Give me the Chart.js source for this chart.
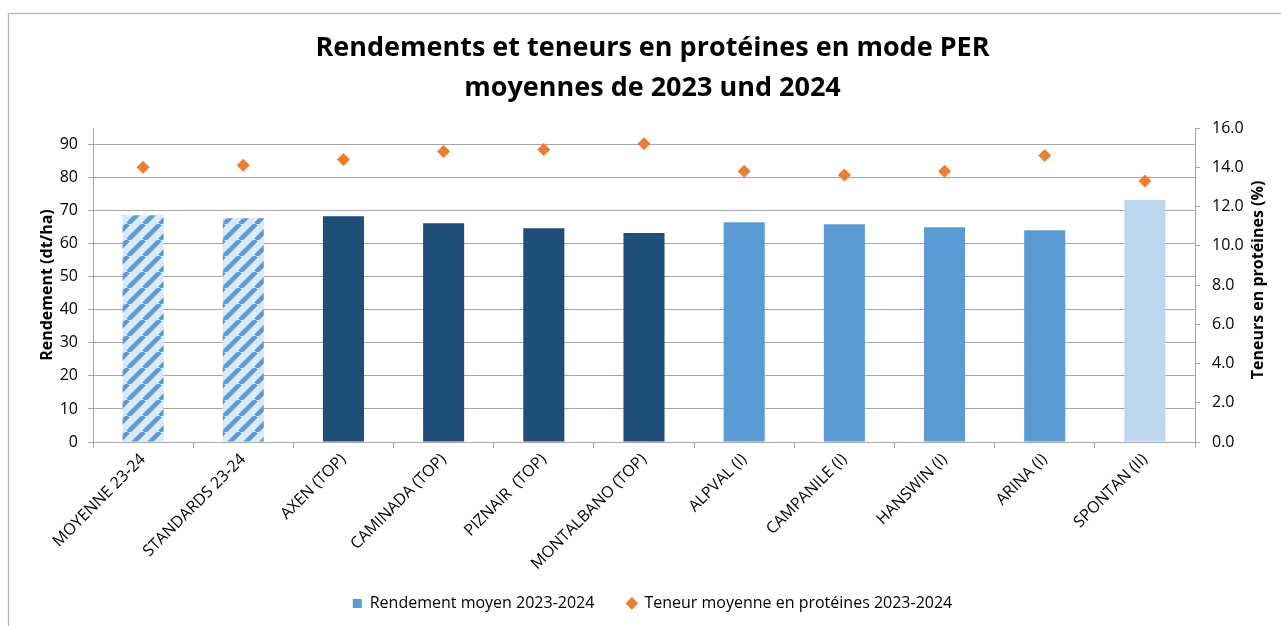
<!DOCTYPE html>
<html><head><meta charset="utf-8">
<script src="https://cdn.jsdelivr.net/npm/chart.js@4.4.1/dist/chart.umd.min.js"></script>
<style>html,body{margin:0;padding:0;background:#fff;}</style>
</head><body>
<canvas id="c" width="1281" height="626"></canvas>
<script>
// ---- data ----
const categories = ['MOYENNE 23-24','STANDARDS 23-24','AXEN (TOP)','CAMINADA (TOP)','PIZNAIR  (TOP)','MONTALBANO (TOP)','ALPVAL (I)','CAMPANILE (I)','HANSWIN (I)','ARINA (I)','SPONTAN (II)'];
const rendement = [68.6, 67.7, 68.3, 66.2, 64.7, 63.2, 66.5, 65.9, 65.0, 64.1, 73.2];
const proteines = [14.0, 14.1, 14.4, 14.8, 14.9, 15.2, 13.8, 13.6, 13.8, 14.6, 13.3];
const leftTicks = [0, 10, 20, 30, 40, 50, 60, 70, 80, 90];
const rightTicks = [0, 2, 4, 6, 8, 10, 12, 14, 16];
const titleLines = ['Rendements et teneurs en protéines en mode PER', 'moyennes de 2023 und 2024'];
const leftTitle = 'Rendement (dt/ha)';
const rightTitle = 'Teneurs en protéines (%)';
const barLabel = 'Rendement moyen 2023-2024';
const pointLabel = 'Teneur moyenne en protéines 2023-2024';

// ---- style ----
const F = "'Open Sans', 'DejaVu Sans', sans-serif";
const DARK = '#1f4e79', MID = '#5b9bd5', LIGHT = '#bdd7ee', ORANGE = '#ed7d31', GRID = '#a6a6a6';
const XAXIS_BOTTOM = 584;      // bottom of x-axis label box
const LEGEND_PAD = 33;
const LEGEND_CENTER = 605;
function hatch() {
  const s = 16, c = document.createElement('canvas');
  c.width = s; c.height = s;
  const g = c.getContext('2d');
  g.fillStyle = '#dde8f6'; g.fillRect(0, 0, s, s);
  g.strokeStyle = MID; g.lineWidth = 4.5;
  g.beginPath();
  for (let k = -1; k <= 1; k++) { g.moveTo(k * s, s); g.lineTo(k * s + s, 0); }
  g.stroke();
  return document.getElementById('c').getContext('2d').createPattern(c, 'repeat');
}
const H = hatch();
const barColors = [H, H, DARK, DARK, DARK, DARK, MID, MID, MID, MID, LIGHT];

const framePlugin = {
  id: 'frame',
  beforeDraw(chart) {
    const ctx = chart.ctx; ctx.save();
    ctx.strokeStyle = '#b4b4b4'; ctx.lineWidth = 1.3;
    ctx.strokeRect(8.5, 13.5, 1400, 1000);
    ctx.restore();
  },
  afterDraw(chart) {
    const ctx = chart.ctx; ctx.save();
    ctx.translate(1258, 280);
    ctx.rotate(-Math.PI / 2);
    ctx.textAlign = 'center'; ctx.textBaseline = 'middle';
    ctx.fillStyle = '#000'; ctx.font = "bold 16px " + F;
    ctx.fillText(rightTitle, 0, 0);
    ctx.restore();
  },
  afterInit(chart) {
    const lg = chart.legend;
    if (lg) {
      const orig = lg.fit.bind(lg);
      lg.fit = function () { orig(); this.height = 626 - XAXIS_BOTTOM; };
    }
  },
  afterLayout(chart) {
    const lg = chart.legend;
    if (lg) {
      lg.top = LEGEND_CENTER - LEGEND_PAD - 9.6;
      lg.bottom = 626;
      lg.height = lg.bottom - lg.top;
    }
  }
};

new Chart(document.getElementById('c'), {
  type: 'bar',
  data: {
    labels: categories,
    datasets: [
      { type: 'bar', label: barLabel, data: rendement, yAxisID: 'y', backgroundColor: barColors,
        categoryPercentage: 1, barPercentage: 0.41, order: 1 },
      { type: 'line', label: pointLabel, data: proteines, yAxisID: 'y1', showLine: false,
        pointStyle: 'rectRot', pointRadius: 6.5, pointHoverRadius: 6.5,
        pointBackgroundColor: ORANGE, pointBorderColor: ORANGE, pointBorderWidth: 0, order: 0 }
    ]
  },
  options: {
    responsive: false, animation: false, devicePixelRatio: 1,
    layout: { padding: { left: 24, right: 0, top: 0, bottom: 0 } },
    plugins: {
      tooltip: { enabled: false },
      title: { display: true, text: titleLines, color: '#000',
        font: { family: F, size: 27, weight: 'bold', lineHeight: '40px' },
        padding: { top: 28, bottom: 20 } },
      legend: { position: 'bottom',
        labels: { usePointStyle: true, boxWidth: 9, boxHeight: 9, padding: LEGEND_PAD, color: '#000',
          font: { family: F, size: 16 },
          generateLabels: () => [
            { text: barLabel, fillStyle: MID, strokeStyle: MID, lineWidth: 0, pointStyle: 'rect', datasetIndex: 0 },
            { text: pointLabel, fillStyle: ORANGE, strokeStyle: ORANGE, lineWidth: 0, pointStyle: 'rectRot', datasetIndex: 1 }
          ] } }
    },
    scales: {
      x: { offset: true,
        grid: { offset: true, drawOnChartArea: false, drawTicks: true, tickLength: 6, color: GRID },
        border: { color: GRID },
        ticks: { color: '#000', font: { family: F, size: 16 }, minRotation: 45, maxRotation: 45, autoSkip: false, padding: 2 },
        afterFit(s) { s.height = XAXIS_BOTTOM - 442; } },
      y: { position: 'left', min: 0, max: 95,
        afterBuildTicks(s) { s.ticks = leftTicks.map(v => ({ value: v })); },
        grid: { color: GRID, tickLength: 5, drawTicks: true },
        border: { color: GRID },
        ticks: { padding: 10, color: '#000', font: { family: F, size: 16 } },
        title: { display: true, text: leftTitle, color: '#000', font: { family: F, size: 16, weight: 'bold' }, padding: { top: 13.5, bottom: 0 } },
        afterFit(s) { s.width = 69; } },
      y1: { position: 'right', min: 0, max: 16,
        afterBuildTicks(s) { s.ticks = rightTicks.map(v => ({ value: v })); },
        grid: { drawOnChartArea: false, tickLength: 5, color: GRID },
        border: { color: GRID },
        ticks: { padding: 12, color: '#000', font: { family: F, size: 16 }, callback: v => Number(v).toFixed(1) },
        afterFit(s) { s.width = 86; } }
    }
  },
  plugins: [framePlugin]
});
</script>
</body></html>
